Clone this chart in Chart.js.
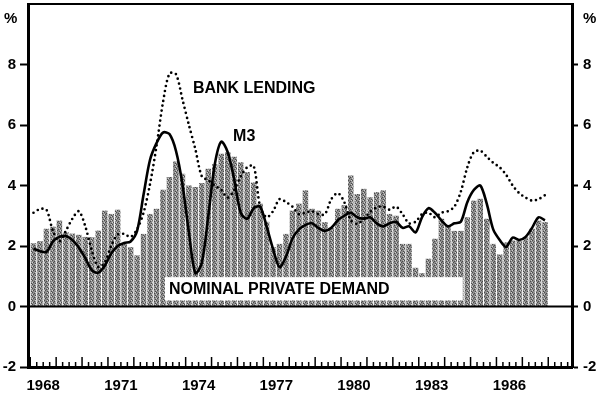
<!DOCTYPE html>
<html>
<head>
<meta charset="utf-8">
<script src="https://cdn.jsdelivr.net/npm/chart.js@4.4.0/dist/chart.umd.min.js"></script>
<style>
  html, body { margin: 0; padding: 0; background: #fff; }
</style>
</head>
<body>
<canvas id="chart" width="600" height="395"></canvas>
<script>
// quarterly data, 1968Q1 - 1987Q4 (% change)
const firstYear = 1968;
const yearLabels = [1968, 1971, 1974, 1977, 1980, 1983, 1986];
const yTicks = [-2, 0, 2, 4, 6, 8];

const demand = [
  2.09, 2.16, 2.57, 2.64,  2.84, 2.46, 2.41, 2.37,  2.30, 2.29, 2.51, 3.17,
  3.06, 3.20, 2.07, 1.96,  1.69, 2.40, 3.06, 3.23,  3.86, 4.28, 4.79, 4.39,
  4.00, 3.95, 4.08, 4.55,  4.70, 5.05, 5.10, 4.95,  4.77, 4.45, 4.10, 3.40,
  2.80, 1.96, 2.07, 2.40,  3.17, 3.40, 3.84, 3.23,  3.17, 2.79, 2.60, 3.23,
  3.35, 4.33, 3.72, 3.89,  3.61, 3.78, 3.84, 3.06,  3.00, 2.07, 2.07, 1.28,
  1.10, 1.58, 2.24, 2.90,  2.67, 2.50, 2.50, 2.95,  3.50, 3.56, 2.90, 2.07,
  1.72, 2.12, 2.18, 2.18,  2.29, 2.57, 2.84, 2.79
];

const m3 = [
  1.91, 1.83, 1.80, 2.15,  2.30, 2.33, 2.20, 1.95,  1.60, 1.20, 1.12, 1.35,
  1.75, 2.00, 2.10, 2.15,  2.50, 3.70, 4.85, 5.40,  5.75, 5.70, 5.15, 4.05,
  2.45, 1.10, 1.45, 3.00,  4.70, 5.45, 5.10, 4.20,  3.10, 2.90, 3.25, 3.30,
  2.65, 1.90, 1.30, 1.65,  2.25, 2.55, 2.70, 2.75,  2.60, 2.50, 2.60, 2.85,
  3.00, 3.10, 2.95, 2.90,  2.95, 2.75, 2.65, 2.75,  2.80, 2.60, 2.65, 2.45,
  2.95, 3.25, 3.10, 2.85,  2.65, 2.75, 2.80, 3.45,  3.85, 4.00, 3.40, 2.55,
  2.20, 1.97, 2.28, 2.20,  2.30, 2.60, 2.95, 2.85
];

const bankLending = [
  3.10, 3.22, 3.20, 2.50,  2.15, 2.50, 2.90, 3.15,  2.65, 1.85, 1.30, 1.45,
  2.00, 2.38, 2.40, 2.30,  2.55, 3.10, 4.05, 5.30,  6.75, 7.70, 7.68, 6.85,
  6.00, 5.20, 4.30, 4.17,  4.00, 3.85, 3.60, 3.85,  4.30, 4.60, 4.65, 3.30,
  2.95, 3.15, 3.55, 3.45,  3.30, 3.05, 3.10, 3.15,  3.05, 3.05, 3.55, 3.75,
  3.45, 2.85, 2.73, 2.90,  3.12, 3.28, 3.30, 3.20,  3.30, 3.05, 2.75, 2.80,
  3.05, 3.10, 2.95, 3.10,  3.15, 3.30, 3.80, 4.60,  5.10, 5.15, 4.95, 4.75,
  4.60, 4.35, 4.00, 3.75,  3.60, 3.50, 3.55, 3.68
];

// each quarter sits in the middle of its quarter on a year axis
function toPoints(values) {
  return values.map((v, i) => ({ x: firstYear + (i + 0.5) / 4, y: v }));
}

const FONT = '"Liberation Sans", Arial, sans-serif';
Chart.defaults.font.family = FONT;
Chart.defaults.font.weight = 'bold';
Chart.defaults.color = '#000';

// stippled grey fill for the bars
function makeStipple() {
  const c = document.createElement('canvas');
  c.width = 4; c.height = 4;
  const g = c.getContext('2d');
  g.fillStyle = '#8c8c8c';
  g.fillRect(0, 0, 4, 4);
  g.fillStyle = '#4a4a4a';
  [[0, 0], [2, 1], [1, 2], [3, 3]].forEach(p => g.fillRect(p[0], p[1], 1, 1));
  g.fillStyle = '#cfcfcf';
  [[3, 0], [0, 2]].forEach(p => g.fillRect(p[0], p[1], 1, 1));
  return g.createPattern(c, 'repeat');
}

const decorations = {
  id: 'decorations',
  afterDatasetDraw(chart, args) {
    if (args.meta.type !== 'bar') return;
    const { ctx, scales: { x, y } } = chart;
    // white panel holding the demand label
    const left = x.getPixelForValue(1973.2);
    const right = x.getPixelForValue(1984.7);
    const top = y.getPixelForValue(0.97);
    const bottom = y.getPixelForValue(0.2);
    ctx.save();
    ctx.fillStyle = '#fff';
    ctx.fillRect(left, top, right - left, bottom - top);
    ctx.fillStyle = '#000';
    ctx.font = 'bold 16px ' + FONT;
    ctx.textBaseline = 'middle';
    ctx.fillText('NOMINAL PRIVATE DEMAND', left + 4, (top + bottom) / 2 + 1);
    ctx.restore();
  },
  afterDraw(chart) {
    const { ctx, chartArea: a, scales: { x, y } } = chart;
    ctx.save();
    ctx.strokeStyle = '#000';
    // zero line
    ctx.lineWidth = 2;
    const y0 = y.getPixelForValue(0);
    ctx.beginPath(); ctx.moveTo(a.left, y0); ctx.lineTo(a.right, y0); ctx.stroke();
    // top frame
    ctx.beginPath(); ctx.moveTo(a.left, a.top); ctx.lineTo(a.right, a.top); ctx.stroke();
    // quarter ticks on the bottom axis, longer at each year
    ctx.lineWidth = 1.5;
    for (let q = 0; q <= 84; q++) {
      const v = firstYear + q / 4;
      if (v < x.min || v > x.max) continue;
      const px = x.getPixelForValue(v);
      const len = q % 4 === 0 ? 10 : 5;
      ctx.beginPath(); ctx.moveTo(px, a.bottom); ctx.lineTo(px, a.bottom - len); ctx.stroke();
    }
    // series labels and unit marks
    ctx.fillStyle = '#000';
    ctx.textBaseline = 'middle';
    ctx.font = 'bold 16px ' + FONT;
    ctx.fillText('BANK LENDING', x.getPixelForValue(1974.28), y.getPixelForValue(7.2));
    ctx.fillText('M3', x.getPixelForValue(1975.83), y.getPixelForValue(5.62));
    ctx.font = 'bold 15px ' + FONT;
    ctx.fillText('%', 4, 19);
    ctx.fillText('%', 583, 19);
    ctx.restore();
  }
};

const yAxis = (position, tickLength, padding) => ({
  type: 'linear',
  position: position,
  min: -2,
  max: 10,
  afterBuildTicks: s => { s.ticks = yTicks.map(v => ({ value: v })); },
  afterFit: s => { s.width = 28; s.paddingTop = 0; s.paddingBottom = 0; },
  ticks: { font: { size: 15, weight: 'bold' }, padding: padding, color: '#000' },
  grid: { drawOnChartArea: false, drawTicks: true, tickLength: tickLength, color: '#000', tickWidth: 2 },
  border: { display: true, color: '#000', width: 3 }
});

new Chart(document.getElementById('chart'), {
  type: 'bar',
  data: {
    datasets: [
      {
        type: 'line',
        label: 'M3',
        data: toPoints(m3),
        borderColor: '#000',
        borderWidth: 2.6,
        pointRadius: 0,
        tension: 0.3,
        yAxisID: 'y',
        order: 1
      },
      {
        type: 'line',
        label: 'Bank lending',
        data: toPoints(bankLending),
        borderColor: '#000',
        borderWidth: 2.7,
        borderDash: [0, 5],
        borderCapStyle: 'round',
        pointRadius: 0,
        tension: 0.3,
        yAxisID: 'y',
        order: 2
      },
      {
        type: 'bar',
        label: 'Nominal private demand',
        data: toPoints(demand),
        backgroundColor: makeStipple(),
        borderWidth: 0,
        barPercentage: 0.85,
        categoryPercentage: 1,
        yAxisID: 'y',
        order: 3
      }
    ]
  },
  options: {
    responsive: false,
    animation: false,
    devicePixelRatio: 1,
    layout: { padding: { top: 4, left: 0, right: 0, bottom: 0 } },
    plugins: { legend: { display: false }, tooltip: { enabled: false } },
    scales: {
      x: {
        type: 'linear',
        offset: false,
        min: 1967.913,
        max: 1988.917,
        afterBuildTicks: s => { s.ticks = yearLabels.map(v => ({ value: v + 0.5 })); },
        afterFit: s => { s.height = 28; s.paddingLeft = 0; s.paddingRight = 0; },
        ticks: {
          callback: v => String(Math.floor(v)),
          font: { size: 15, weight: 'bold' },
          padding: 10,
          autoSkip: false,
          maxRotation: 0,
          color: '#000'
        },
        grid: { display: false, drawTicks: false },
        border: { display: true, color: '#000', width: 3 }
      },
      y: yAxis('left', 8, 4),
      y2: yAxis('right', 6, 5)
    }
  },
  plugins: [decorations]
});
</script>
</body>
</html>
